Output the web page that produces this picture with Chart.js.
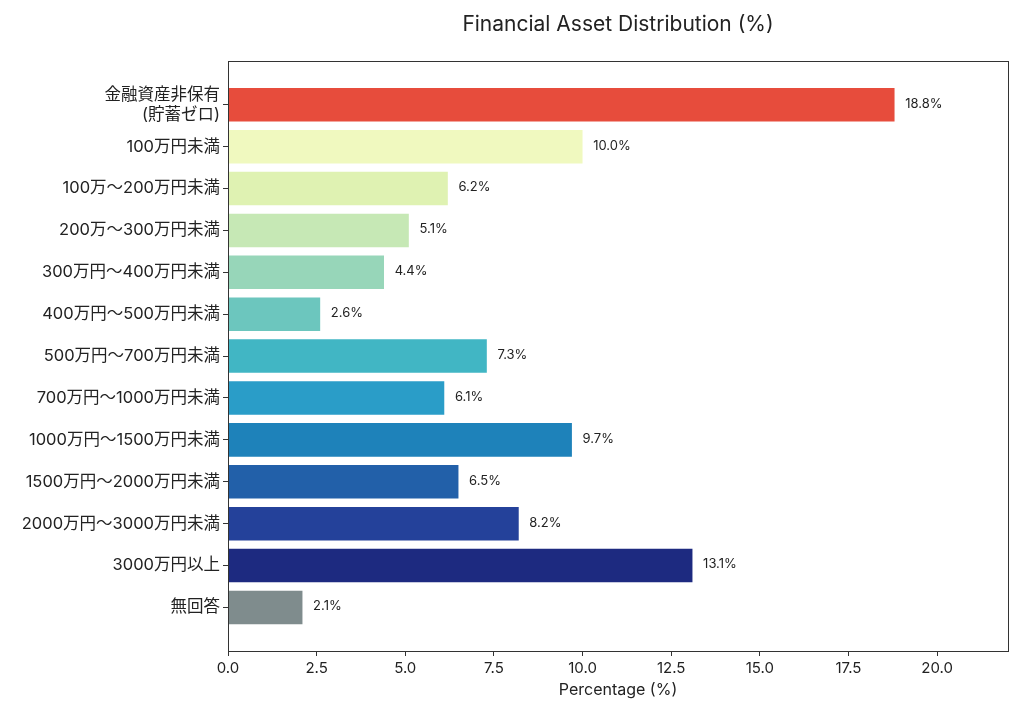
<!DOCTYPE html>
<html>
<head>
<meta charset="utf-8">
<script src="https://cdn.jsdelivr.net/npm/chart.js@4/dist/chart.umd.min.js"></script>
<style>
  html, body { margin: 0; padding: 0; background: #fff; }
  #wrap { width: 1024px; height: 717px; }
</style>
</head>
<body>
<div id="wrap"><canvas id="myChart" width="1024" height="717"></canvas></div>
<script>
// categories (first one is two lines)
var categories = [
  ['金融資産非保有', '(貯蓄ゼロ)'],
  '100万円未満',
  '100万〜200万円未満',
  '200万〜300万円未満',
  '300万円〜400万円未満',
  '400万円〜500万円未満',
  '500万円〜700万円未満',
  '700万円〜1000万円未満',
  '1000万円〜1500万円未満',
  '1500万円〜2000万円未満',
  '2000万円〜3000万円未満',
  '3000万円以上',
  '無回答'
];
var percentages = [18.8, 10.0, 6.2, 5.1, 4.4, 2.6, 7.3, 6.1, 9.7, 6.5, 8.2, 13.1, 2.1];
var xTicks = [0, 2.5, 5, 7.5, 10, 12.5, 15, 17.5, 20];
var barColors = [
  '#E74C3C', '#F0F9BF', '#DFF2B2', '#C6E8B5', '#97D6B9', '#6CC6BE', '#41B6C4',
  '#2A9DC8', '#1E82BA', '#2260A9', '#24419A', '#1D2A80', '#7F8C8D'
];

var FONT = "'Inter', 'Noto Sans CJK JP', sans-serif";
var INK = '#222';

var points = percentages.map(function(v, i) { return { x: v, y: i }; });

// box around the plot area + value labels next to the bars
var framePlugin = {
  id: 'frame',
  afterDatasetsDraw: function(chart) {
    var ctx = chart.ctx, a = chart.chartArea;
    var xs = chart.scales.x, ys = chart.scales.y;
    ctx.save();
    ctx.font = '13px ' + FONT;
    ctx.fillStyle = INK;
    ctx.textAlign = 'left';
    ctx.textBaseline = 'middle';
    percentages.forEach(function(v, i) {
      ctx.fillText(v.toFixed(1) + '%', xs.getPixelForValue(v + 0.3), ys.getPixelForValue(i) - 1);
    });
    ctx.strokeStyle = '#333';
    ctx.lineWidth = 1;
    ctx.strokeRect(Math.round(a.left) + 0.5, Math.round(a.top) + 0.5,
                   Math.round(a.right - a.left), Math.round(a.bottom - a.top));
    ctx.restore();
  }
};

var ctx = document.getElementById('myChart').getContext('2d');
var myChart = new Chart(ctx, {
  type: 'bar',
  data: {
    datasets: [{
      label: 'Percentage',
      data: points,
      backgroundColor: barColors,
      borderWidth: 0,
      barPercentage: 0.8,
      categoryPercentage: 1.0
    }]
  },
  options: {
    indexAxis: 'y',
    responsive: false,
    animation: false,
    layout: { padding: { left: 0, right: 16, top: 0, bottom: 0 } },
    plugins: {
      legend: { display: false },
      tooltip: { enabled: false },
      title: {
        display: true,
        fullSize: false,
        text: 'Financial Asset Distribution (%)',
        color: INK,
        font: { family: FONT, size: 21, weight: 'normal' },
        padding: { top: 12, bottom: 24 }
      }
    },
    scales: {
      x: {
        type: 'linear',
        min: 0,
        max: 22,
        offset: false,
        afterBuildTicks: function(scale) {
          scale.ticks = xTicks.map(function(v) { return { value: v }; });
        },
        afterFit: function(scale) { scale.height = 66; },
        ticks: {
          color: INK,
          padding: 3,
          font: { family: FONT, size: 15 },
          callback: function(v) { return Number(v).toFixed(1); }
        },
        grid: { display: true, offset: false, drawOnChartArea: false, drawTicks: true, tickLength: 5, color: '#333' },
        border: { display: true, color: '#333' },
        title: {
          display: true,
          text: 'Percentage (%)',
          color: INK,
          font: { family: FONT, size: 16 },
          padding: { top: 0, bottom: 17 }
        }
      },
      y: {
        type: 'linear',
        reverse: true,
        min: -1.04,
        max: 13.04,
        offset: false,
        afterBuildTicks: function(scale) {
          scale.ticks = categories.map(function(c, i) { return { value: i }; });
        },
        afterFit: function(scale) { scale.width = 228; },
        ticks: {
          color: INK,
          padding: 3,
          font: { family: FONT, size: 16.5, lineHeight: 1.2 },
          callback: function(v) { return categories[v]; }
        },
        grid: { display: true, offset: false, drawOnChartArea: false, drawTicks: true, tickLength: 5, color: '#333' },
        border: { display: true, color: '#333' }
      }
    }
  },
  plugins: [framePlugin]
});
</script>
</body>
</html>
